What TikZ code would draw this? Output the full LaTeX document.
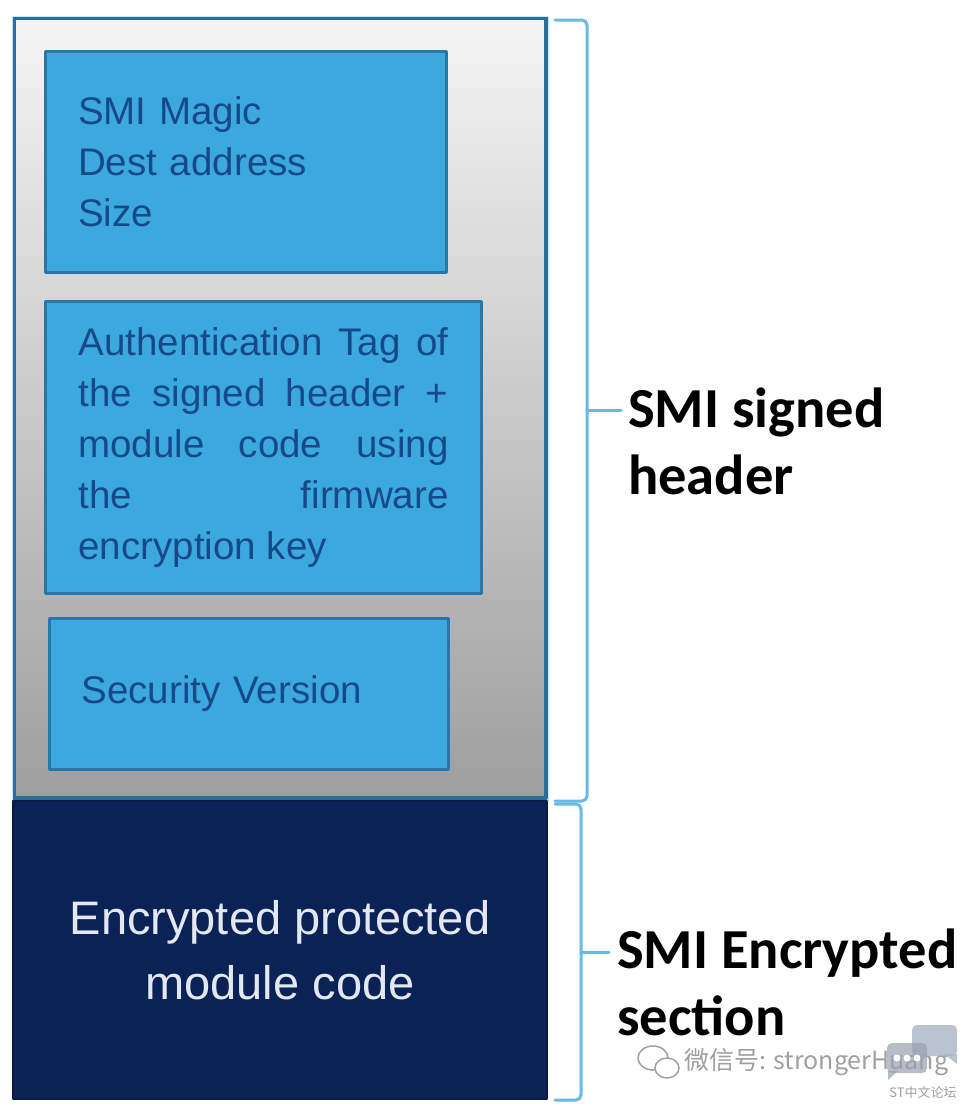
\documentclass[tikz,border=0pt]{standalone}
\usepackage{fontspec}
\setmainfont{Liberation Sans}
\newfontfamily\lblfont{Carlito}
\newfontfamily\cjkfont{Noto Sans CJK SC}
\usetikzlibrary{positioning}
\definecolor{fieldblue}{HTML}{3BA9DE}
\definecolor{fieldedge}{HTML}{2877A8}
\definecolor{fieldtext}{HTML}{17498A}
\definecolor{outeredge}{HTML}{2B6D9B}
\definecolor{navybox}{HTML}{0B2257}
\definecolor{navytext}{HTML}{E3E7EF}
\definecolor{bracecol}{HTML}{66BAE4}
\definecolor{wmgray}{HTML}{A0A0A0}
\definecolor{bubble}{HTML}{A9B4C4}
\begin{document}
\begin{tikzpicture}[x=1pt,y=-1pt,line join=round,line cap=round,
	field/.style={draw=fieldedge,line width=3pt,fill=fieldblue,text=fieldtext,inner ysep=0pt,
		anchor=north west,align=left,font=\fontsize{38.5}{51}\selectfont},
	brace/.style={draw=bracecol,line width=3pt,rounded corners=5pt},
	lbl/.style={anchor=north west,inner sep=0pt,align=left,font=\lblfont\bfseries\fontsize{56.5}{67}\selectfont},
	wmark/.style={text=wmgray,inner sep=0pt}]
	%Nền
	\fill[white] (0,0) rectangle (969,1109);
	%Khung header đã ký
	\node[draw=outeredge,line width=4pt,top color=black!4,bottom color=black!38,anchor=north west,
		minimum width=532pt,minimum height=780pt,inner sep=0pt] (smihdr) at (12,16) {};
	\draw[cyan!25,line width=1pt] (smihdr.north west) rectangle (smihdr.south east);
	\node[field,inner xsep=32.5pt,text width=336pt,minimum height=221pt] (magic) at (44,50)
		{SMI Magic\\Dest address\\Size};
	\node[field,align=justify,inner xsep=33pt,text width=370pt,minimum height=292pt,
		below right=26pt and 0pt of magic.south west] (authtag)
		{\tolerance=10000\hyphenpenalty=10000 Authentication Tag of\linebreak the signed header +\linebreak
		module code using\linebreak the firmware\linebreak encryption key};
	\node[field,inner xsep=32pt,text width=335pt,minimum height=151pt,
		below right=22pt and 4pt of authtag.south west] (secver) {Security Version};
	%Phần mã hóa
	\node[draw=navybox!80!black,line width=2pt,fill=navybox,text=navytext,anchor=north west,
		minimum width=534pt,minimum height=298pt,align=center,
		font=\fontsize{47}{65}\selectfont] (encsec) at (12,800) {Encrypted protected\\module code};
	%Ngoặc bên phải
	\foreach \t/\b/\bx/\nm in {20/801/587/hdr,804/1100/581/enc}{
		\draw[brace] (555,\t) -| (\bx,\b) -- (555,\b);
		\coordinate (tick\nm) at (\bx,{(\t+\b)/2});
	}
	\node[lbl] (sighdr) at (628,388) {SMI signed\\header};
	\node[lbl] (enclbl) at (617,929) {SMI Encrypted\\section};
	\draw[brace] (tickhdr) -- ++(34,0);
	\draw[brace] (tickenc) -- ++(28,0);
	%Watermark
	\draw[wmgray,line width=1.5pt] (653,1058) ellipse [x radius=15,y radius=12];
	\draw[wmgray,line width=1.5pt,fill=white] (667,1068) ellipse [x radius=12,y radius=10];
	\node[wmark,anchor=west,font=\cjkfont\fontsize{25}{25}\selectfont] (wxid) at (684,1062) {微信号: strongerHuang};
	\fill[bubble,rounded corners=5pt,fill opacity=.8] (912,1025) rectangle (957,1056);
	\fill[bubble,fill opacity=.8] (944,1054) -- (957,1054) -- (957,1064) -- cycle;
	\fill[bubble!90!black,rounded corners=5pt,fill opacity=.7] (887,1043) rectangle (927,1073);
	\fill[bubble!90!black,fill opacity=.7] (888,1071) -- (898,1071) -- (888,1080) -- cycle;
	\foreach \d in {897,907,917} \fill[white] (\d,1058) circle (3.5);
	\node[wmark,font=\cjkfont\fontsize{13}{13}\selectfont] (stcn) at (923,1092) {ST中文论坛};
\end{tikzpicture}
\end{document}
